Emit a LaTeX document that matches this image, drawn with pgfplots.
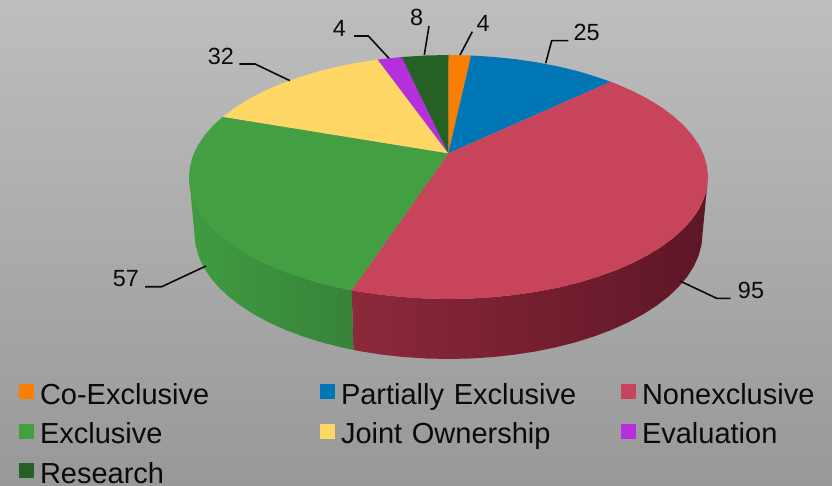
\documentclass[border=0pt]{standalone}
\usepackage{pgfplots}
\pgfplotsset{compat=1.18}
\usepackage{fontspec}
\setmainfont{Liberation Sans}
\definecolor{cOrange}{HTML}{FA7F00}
\definecolor{cBlue}{HTML}{0077B4}
\definecolor{cRed}{HTML}{C8445A}
\definecolor{cGreen}{HTML}{42A042}
\definecolor{cYellow}{HTML}{FFD766}
\definecolor{cPurple}{HTML}{B52FDC}
\definecolor{cDark}{HTML}{256025}
\definecolor{ink}{HTML}{0A0A0A}
\definecolor{bgTop}{HTML}{BEBEBE}
\definecolor{bgBottom}{HTML}{989898}
\definecolor{redWallA}{HTML}{8C293B}
\definecolor{redWallB}{HTML}{5F1726}
\definecolor{redWallC}{HTML}{5E1626}
\definecolor{greenWallA}{HTML}{3F9C40}
\definecolor{greenWallB}{HTML}{37823A}
\begin{document}
\begin{tikzpicture}
\useasboundingbox (0,0) rectangle (832pt,486pt);
\begin{axis}[
  at={(0,0)}, anchor=south west,
  scale only axis, width=832pt, height=486pt,
  xmin=0, xmax=832, ymin=0, ymax=486, y dir=reverse,
  enlargelimits=false, hide axis, clip=false,
  legend columns=3,
  legend cell align=left,
  legend image code/.code={\fill[#1,draw=none] (0pt,-3pt) rectangle (15pt,12pt);},
  legend style={
    at={(axis cs:19,382)}, anchor=north west, draw=none, fill=none,
    inner sep=0pt, outer sep=0pt,
    row sep=11.5pt,
    /tikz/every odd column/.append style={column sep=6pt},
    font=\fontsize{29}{34}\selectfont,
    text=ink,
    nodes={text width=280pt, text height=22pt, text depth=6pt, inner sep=0pt, anchor=west, align=left},
  },
]
% page background
\path[top color=bgTop, bottom color=bgBottom] (axis cs:0,0) rectangle (axis cs:832,486);

% outer wall of the Nonexclusive slice
\addplot[forget plot, draw=none, left color=redWallA, middle color=redWallB, right color=redWallC] coordinates {
 (708,177) (707,187.6) (704.1,198.2) (699.2,208.6) (692.4,218.7) (683.7,228.6) (673.2,238) (661.1,247) (647.3,255.4) (632,263.3) (615.3,270.5) (597.3,276.9) (578.3,282.7) (558.2,287.6) (537.3,291.6) (515.7,294.8) (493.6,297.1) (471.1,298.5) (448.5,299) (425.9,298.5) (403.4,297.1) (381.3,294.8) (359.7,291.6) (351.7,290.2)
 (353.4,349.9) (361.6,351.5) (382.8,354.7) (404.4,357.1) (426.4,358.5) (448.5,359) (470.6,358.5) (492.6,357.1) (514.2,354.7) (535.4,351.5) (555.8,347.3) (575.5,342.3) (594.2,336.4) (611.8,329.8) (628.1,322.4) (643.1,314.3) (656.6,305.7) (668.5,296.5) (678.7,286.8) (687.2,276.8) (693.8,266.4) (698.6,255.7) (701.5,244.9) (702.5,234)
} --cycle;
% outer wall of the Exclusive slice
\addplot[forget plot, draw=none, left color=greenWallA, right color=greenWallB] coordinates {
 (189,177) (190,187.6) (192.9,198.2) (197.8,208.6) (204.6,218.7) (213.3,228.6) (223.8,238) (235.9,247) (249.7,255.4) (265,263.3) (281.7,270.5) (299.7,276.9) (318.7,282.7) (338.8,287.6) (351.7,290.2)
 (353.4,349.9) (341.2,347.3) (321.5,342.3) (302.8,336.4) (285.2,329.8) (268.9,322.4) (253.9,314.3) (240.4,305.7) (228.5,296.5) (218.3,286.8) (209.8,276.8) (203.2,266.4) (198.4,255.7) (195.5,244.9) (194.5,234)
} --cycle;

% top face, one polygon per slice
\addplot[fill=cOrange, draw=none] coordinates {
 (448.3,153.3) (448.5,55) (471.1,55.5) } --cycle;
\addlegendentry{Co-Exclusive}
\addplot[fill=cBlue, draw=none] coordinates {
 (448.3,153.3) (471.1,55.5) (493.6,56.9) (515.7,59.2) (537.3,62.4) (558.2,66.4) (578.3,71.3) (597.3,77.1) (610.7,81.8) } --cycle;
\addlegendentry{Partially Exclusive}
\addplot[fill=cRed, draw=none] coordinates {
 (448.3,153.3) (610.7,81.8) (615.3,83.5) (632,90.7) (647.3,98.6) (661.1,107) (673.2,116) (683.7,125.4) (692.4,135.3) (699.2,145.4) (704.1,155.8) (707,166.4) (708,177)
 (707,187.6) (704.1,198.2) (699.2,208.6) (692.4,218.7) (683.7,228.6) (673.2,238) (661.1,247) (647.3,255.4) (632,263.3) (615.3,270.5) (597.3,276.9) (578.3,282.7) (558.2,287.6) (537.3,291.6) (515.7,294.8) (493.6,297.1) (471.1,298.5) (448.5,299) (425.9,298.5) (403.4,297.1) (381.3,294.8) (359.7,291.6) (351.7,290.2) } --cycle;
\addlegendentry{Nonexclusive}
\addplot[fill=cGreen, draw=none] coordinates {
 (448.3,153.3) (351.7,290.2) (338.8,287.6) (318.7,282.7) (299.7,276.9) (281.7,270.5) (265,263.3) (249.7,255.4) (235.9,247) (223.8,238) (213.3,228.6) (204.6,218.7) (197.8,208.6) (192.9,198.2) (190,187.6) (189,177)
 (190,166.4) (192.9,155.8) (197.8,145.4) (204.6,135.3) (213.3,125.4) (222.7,116.8) } --cycle;
\addlegendentry{Exclusive}
\addplot[fill=cYellow, draw=none] coordinates {
 (448.3,153.3) (222.7,116.8) (223.8,116) (235.9,107) (249.7,98.6) (265,90.7) (281.7,83.5) (299.7,77.1) (318.7,71.3) (338.8,66.4) (359.7,62.4) (377.7,59.6) } --cycle;
\addlegendentry{Joint Ownership}
\addplot[fill=cPurple, draw=none] coordinates {
 (448.3,153.3) (377.7,59.6) (381.3,59.2) (401.7,57) } --cycle;
\addlegendentry{Evaluation}
\addplot[fill=cDark, draw=none] coordinates {
 (448.3,153.3) (401.7,57) (403.4,56.9) (425.9,55.5) (448.5,55) } --cycle;
\addlegendentry{Research}

% leader lines
\addplot[forget plot, ink, line width=1.6pt] coordinates {(545.7,63.3) (551.7,40.7) (568.3,40.7)};
\addplot[forget plot, ink, line width=1.6pt] coordinates {(460,55) (472.3,31.7)};
\addplot[forget plot, ink, line width=1.6pt] coordinates {(424.3,55) (429,26)};
\addplot[forget plot, ink, line width=1.6pt] coordinates {(389,58.3) (368.3,36) (354,36)};
\addplot[forget plot, ink, line width=1.6pt] coordinates {(290,80.7) (255,64) (239.3,64)};
\addplot[forget plot, ink, line width=1.6pt] coordinates {(206,266) (161.7,286.7) (145,286.7)};
\addplot[forget plot, ink, line width=1.6pt] coordinates {(680,281) (716.7,298.3) (730.7,298.3)};

% slice values
\begin{scope}[every node/.style={font=\fontsize{23.4}{28}\selectfont, text=ink, inner sep=0pt}]
\node at (axis cs:586.7,32) {25};
\node at (axis cs:483,23) {4};
\node at (axis cs:416.7,17) {8};
\node at (axis cs:339.3,28.5) {4};
\node at (axis cs:221,56) {32};
\node at (axis cs:126,279) {57};
\node at (axis cs:751,290) {95};
\end{scope}
\end{axis}
\end{tikzpicture}
\end{document}
